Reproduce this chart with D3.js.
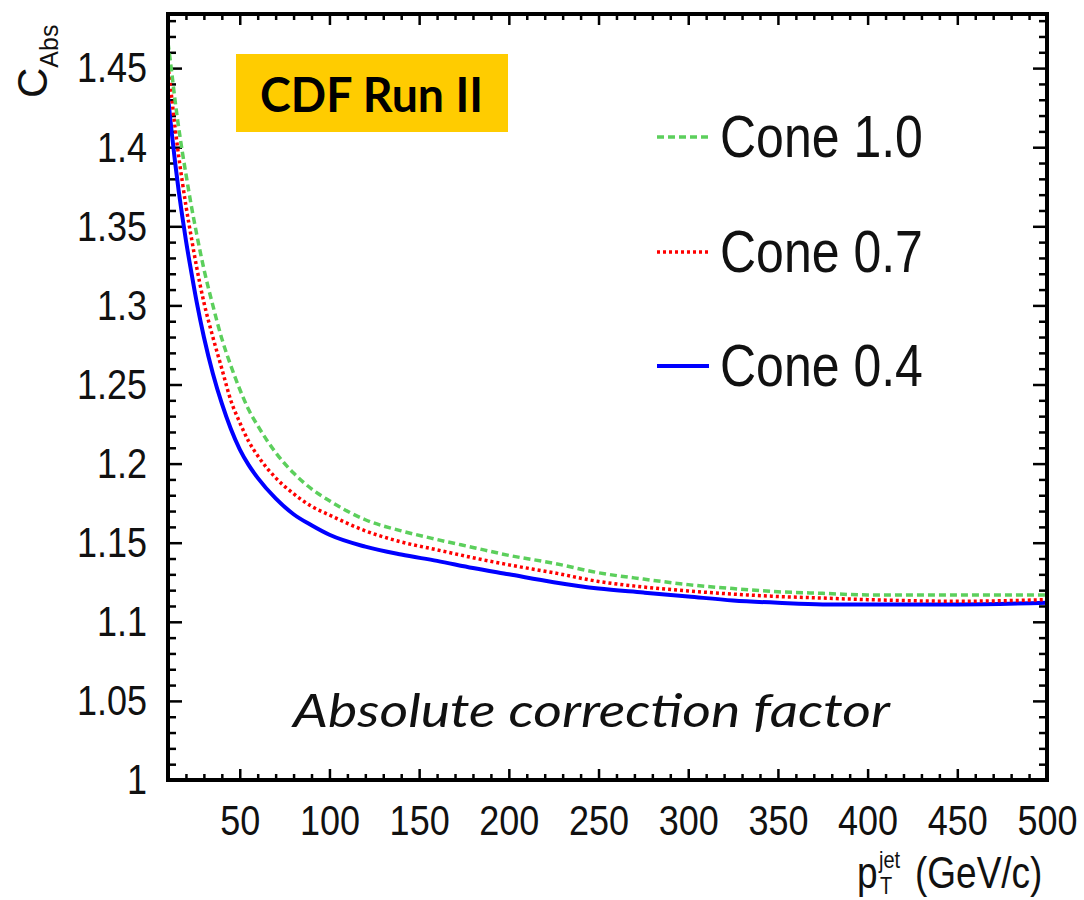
<!DOCTYPE html>
<html>
<head>
<meta charset="utf-8">
<script src="https://cdn.jsdelivr.net/npm/d3@7"></script>
<style>
  body { margin: 0; background: #fff; }
  svg { display: block; }
</style>
</head>
<body>
<svg id="chart" width="1084" height="900"></svg>
<script>
// pT of jets (GeV/c)
const pT = [10, 12, 14, 16, 18, 20, 23, 26, 30, 35, 40, 45, 50, 55, 60, 70, 80, 90, 100,
            120, 140, 160, 180, 200, 225, 250, 275, 300, 325, 350, 375, 400, 450, 500];

// absolute correction factor per cone size
const cone10 = [1.466, 1.448, 1.429, 1.412, 1.397, 1.383, 1.363, 1.345, 1.323, 1.300, 1.279, 1.262,
                1.247, 1.234, 1.224, 1.207, 1.194, 1.184, 1.1765, 1.1645, 1.1575, 1.152, 1.147, 1.142,
                1.137, 1.131, 1.127, 1.1235, 1.121, 1.119, 1.118, 1.117, 1.117, 1.117];
const cone07 = [1.452, 1.432, 1.412, 1.394, 1.378, 1.363, 1.343, 1.324, 1.302, 1.280, 1.260, 1.240,
                1.226, 1.214, 1.205, 1.191, 1.181, 1.173, 1.1675, 1.1575, 1.1505, 1.1455, 1.1405, 1.136,
                1.131, 1.1255, 1.122, 1.1195, 1.1175, 1.116, 1.115, 1.114, 1.113, 1.114];
const cone04 = [1.432, 1.410, 1.390, 1.372, 1.356, 1.341, 1.321, 1.302, 1.280, 1.257, 1.238, 1.222,
                1.209, 1.199, 1.191, 1.178, 1.168, 1.161, 1.155, 1.1475, 1.1425, 1.1385, 1.134, 1.130,
                1.125, 1.121, 1.1185, 1.116, 1.1135, 1.112, 1.111, 1.111, 1.111, 1.112];

const seriesNames = ['Cone 1.0', 'Cone 0.7', 'Cone 0.4'];
const xTicks = [50, 100, 150, 200, 250, 300, 350, 400, 450, 500];
const yTicks = [1, 1.05, 1.1, 1.15, 1.2, 1.25, 1.3, 1.35, 1.4, 1.45];

const svg = d3.select('#chart');
const FONT = '"Liberation Sans", Arial, sans-serif';
const STRETCH = 'scale(1,1.2)';

const pLeft = 168, pRight = 1047, pTop = 14, pBottom = 780;
const x = d3.scaleLinear().domain([10, 500]).range([pLeft, pRight]);
const y = d3.scaleLinear().domain([1, 1.4842]).range([pBottom, pTop]);

svg.append('rect').attr('width', 1084).attr('height', 900).attr('fill', '#fff');

// minor tick positions
const xMinor = d3.range(10, 501, 10).filter(v => v % 50 !== 0);
const yMinor = d3.range(100, 149).map(v => v / 100).filter(v => Math.round(v * 100) % 5 !== 0);

function styleAxis(g) {
  g.select('.domain').remove();
  g.selectAll('line').attr('stroke', '#000').attr('stroke-width', 2.5);
}

// bottom
svg.append('g').attr('transform', `translate(0,${pBottom})`)
  .call(d3.axisBottom(x).tickValues(xMinor).tickSize(-6).tickFormat(''))
  .call(styleAxis);
const xAx = svg.append('g').attr('transform', `translate(0,${pBottom})`)
  .call(d3.axisBottom(x).tickValues(xTicks).tickSize(-11).tickFormat(d3.format('d')))
  .call(styleAxis);
xAx.selectAll('text')
  .attr('y', 20).attr('dy', '0.71em')
  .attr('transform', STRETCH)
  .style('font-family', FONT).style('font-size', '36px').attr('fill', '#111');

// top
svg.append('g').attr('transform', `translate(0,${pTop})`)
  .call(d3.axisTop(x).tickValues(xMinor).tickSize(-6).tickFormat(''))
  .call(styleAxis);
svg.append('g').attr('transform', `translate(0,${pTop})`)
  .call(d3.axisTop(x).tickValues(xTicks).tickSize(-11).tickFormat(''))
  .call(styleAxis);

// left
svg.append('g').attr('transform', `translate(${pLeft},0)`)
  .call(d3.axisLeft(y).tickValues(yMinor).tickSize(-8).tickFormat(''))
  .call(styleAxis);
const yAx = svg.append('g').attr('transform', `translate(${pLeft},0)`)
  .call(d3.axisLeft(y).tickValues(yTicks).tickSize(-14).tickPadding(21).tickFormat(d => String(d)))
  .call(styleAxis);
yAx.selectAll('text')
  .attr('transform', STRETCH)
  .style('font-family', FONT).style('font-size', '36px').attr('fill', '#111');

// right
svg.append('g').attr('transform', `translate(${pRight},0)`)
  .call(d3.axisRight(y).tickValues(yMinor).tickSize(-8).tickFormat(''))
  .call(styleAxis);
svg.append('g').attr('transform', `translate(${pRight},0)`)
  .call(d3.axisRight(y).tickValues(yTicks).tickSize(-14).tickFormat(''))
  .call(styleAxis);

// curves
svg.append('clipPath').attr('id', 'plotClip')
  .append('rect').attr('x', pLeft).attr('y', pTop).attr('width', pRight - pLeft).attr('height', pBottom - pTop);

const styles = [
  { data: cone10, color: '#5ccf5c', dash: '7,4', width: 3.5 },
  { data: cone07, color: '#ff0000', dash: '3,3', width: 3.5 },
  { data: cone04, color: '#0000ff', dash: null, width: 4 }
];

const line = d3.line()
  .x(d => x(d[0]))
  .y(d => y(d[1]))
  .curve(d3.curveMonotoneX);

const plot = svg.append('g').attr('clip-path', 'url(#plotClip)');
styles.slice().reverse().forEach(s => {
  plot.append('path')
    .datum(pT.map((p, i) => [p, s.data[i]]))
    .attr('d', line)
    .attr('fill', 'none')
    .attr('stroke', s.color)
    .attr('stroke-width', s.width)
    .attr('stroke-dasharray', s.dash);
});

// frame
svg.append('rect')
  .attr('x', pLeft).attr('y', pTop)
  .attr('width', pRight - pLeft).attr('height', pBottom - pTop)
  .attr('fill', 'none').attr('stroke', '#000').attr('stroke-width', 4);

// legend
const legY = [137, 252, 366];
styles.forEach((s, i) => {
  svg.append('line')
    .attr('x1', 657).attr('x2', 709)
    .attr('y1', legY[i]).attr('y2', legY[i])
    .attr('stroke', s.color).attr('stroke-width', s.width)
    .attr('stroke-dasharray', s.dash);
  svg.append('g').attr('transform', `translate(720,${legY[i] + 20}) ${STRETCH}`)
    .append('text')
    .style('font-family', FONT).style('font-size', '50px').attr('fill', '#111')
    .text(seriesNames[i]);
});

// CDF Run II label
svg.append('rect')
  .attr('x', 236).attr('y', 54).attr('width', 272).attr('height', 78)
  .attr('fill', '#ffcc00');
svg.append('text')
  .attr('x', 260).attr('y', 112)
  .attr('textLength', 223).attr('lengthAdjust', 'spacingAndGlyphs')
  .style('font-family', 'Lato, "Open Sans", sans-serif').style('font-weight', 700)
  .style('font-size', '47px').attr('fill', '#000')
  .text('CDF Run II');

// caption
svg.append('text')
  .attr('x', 293).attr('y', 727)
  .attr('textLength', 597).attr('lengthAdjust', 'spacingAndGlyphs')
  .style('font-family', 'Lato, "Open Sans", sans-serif').style('font-style', 'italic')
  .style('font-size', '46px').attr('fill', '#111')
  .text('Absolute correction factor');

// x title
const xt = svg.append('g').attr('transform', `translate(857,888) ${STRETCH}`)
  .append('text').style('font-family', FONT).attr('fill', '#111');
xt.append('tspan').attr('x', 0).attr('y', 0).style('font-size', '37px').text('p');
xt.append('tspan').attr('x', 22).attr('y', -17).style('font-size', '20px').text('jet');
xt.append('tspan').attr('x', 23).attr('y', 5).style('font-size', '20px').text('T');
xt.append('tspan').attr('x', 58).attr('y', 0).style('font-size', '37px').text('(GeV/c)');

// y title
const yt = svg.append('text')
  .attr('transform', 'translate(47,98) rotate(-90)')
  .style('font-family', FONT).attr('fill', '#111');
yt.append('tspan').style('font-size', '42px').text('C');
yt.append('tspan').attr('dy', 11).style('font-size', '25px').text('Abs');
</script>
</body>
</html>
